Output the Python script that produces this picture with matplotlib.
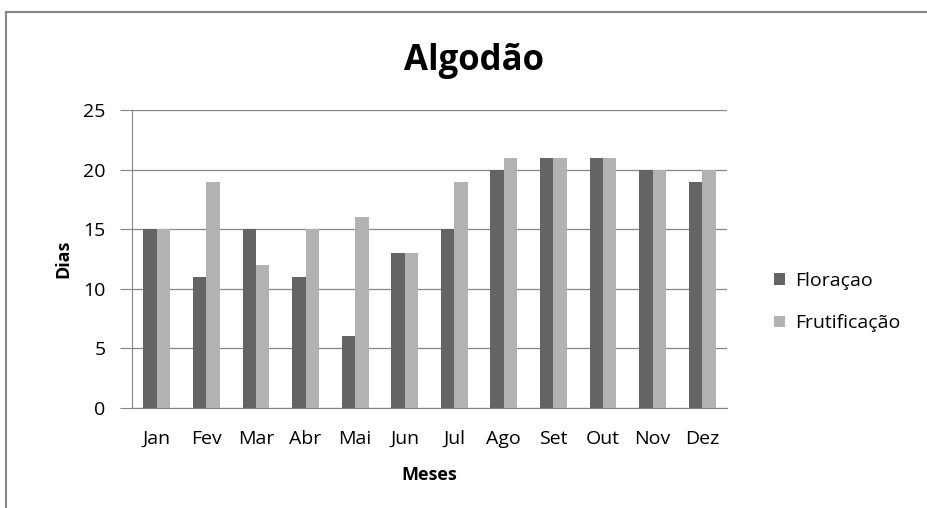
import matplotlib.pyplot as plt
import numpy as np
from matplotlib.lines import Line2D

months = ['Jan', 'Fev', 'Mar', 'Abr', 'Mai', 'Jun', 'Jul', 'Ago', 'Set', 'Out', 'Nov', 'Dez']
floracao = [15, 11, 15, 11, 6, 13, 15, 20, 21, 21, 20, 19]
frutificacao = [15, 19, 12, 15, 16, 13, 19, 21, 21, 21, 20, 20]
y_ticks = [0, 5, 10, 15, 20, 25]

plt.rcParams['font.family'] = ['Open Sans', 'DejaVu Sans']

fig = plt.figure(figsize=(9.27, 5.08), dpi=100)
ax = fig.add_axes([132 / 927, 1 - 408 / 508, (727 - 132) / 927, (408 - 110) / 508])

x = np.arange(len(months))
w = 0.27
ax.bar(x - w / 2, floracao, w, color='#646464', label='Floraçao', zorder=3)
ax.bar(x + w / 2, frutificacao, w, color='#b2b2b2', label='Frutificação', zorder=3)

ax.set_xlim(-0.5, len(months) - 0.5)
ax.set_ylim(0, 25)
ax.set_yticks(y_ticks)
ax.set_xticks(x)
ax.set_xticklabels(months)
ax.tick_params(axis='y', length=9, color='#868686', labelsize=14, pad=10)
ax.tick_params(axis='x', length=0, labelsize=14, pad=16)
ax.yaxis.grid(True, color='#868686', linewidth=0.9, zorder=0)

for s in ['top', 'right']:
    ax.spines[s].set_visible(False)
for s in ['left', 'bottom']:
    ax.spines[s].set_color('#868686')

ax.set_xlabel('Meses', fontsize=13, fontweight='bold', labelpad=13)
ax.set_ylabel('Dias', fontsize=13, fontweight='bold', labelpad=8)
fig.text(474 / 927, 1 - 61 / 508, 'Algodão', ha='center', va='center', fontsize=25, fontweight='bold')

ax.legend(loc='center left', bbox_to_anchor=(1.05, 0.355), frameon=False, fontsize=14,
          handlelength=0.55, handleheight=0.55, labelspacing=1.25, handletextpad=0.5)

# outer chart border (cropped on right and bottom)
fig.add_artist(Line2D([6 / 927, 6 / 927], [0, 1 - 12 / 508], color='#868686', lw=1.5))
fig.add_artist(Line2D([6 / 927, 1], [1 - 12 / 508, 1 - 12 / 508], color='#868686', lw=1.5))

fig.savefig('out.png', dpi=100)
